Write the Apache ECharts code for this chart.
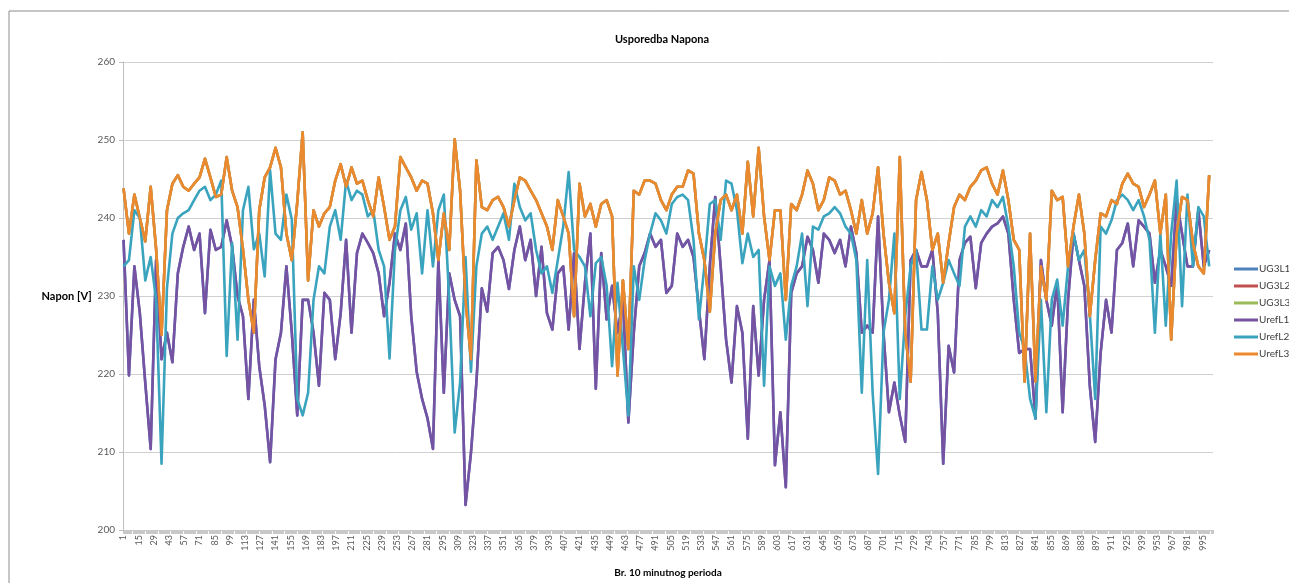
<!DOCTYPE html>
<html>
<head>
<meta charset="utf-8">
<script src="https://cdn.jsdelivr.net/npm/echarts@6/dist/echarts.min.js"></script>
<style>
  html, body { margin: 0; padding: 0; background: #fff; }
  #chart { width: 1289px; height: 583px; }
</style>
</head>
<body>
<div id="chart"></div>
<script>
// broj 10-minutnih perioda na osi x
var periodCount = 1004;
// vrijednosti su ocitane svakih 5 perioda (indeks 0, 5, 10, ... 1000)
var sampleStep = 5;

var yTicks = [200, 210, 220, 230, 240, 250, 260];

var legendNames = ['UG3L1', 'UG3L2', 'UG3L3', 'UrefL1', 'UrefL2', 'UrefL3'];
var lineColors = ['#4F81BD', '#C0504D', '#9BBB59', '#7652A2', '#3AA3BE', '#EC892E'];

// UrefL1 (ljubicasta)
var urefL1 = [
  237.2, 219.8, 233.8, 227.8, 218.9, 210.4, 234.6, 221.9, 225.3, 221.5, 232.9, 236.3, 238.9, 235.9, 238, 227.8, 238.5,
  235.9, 236.3, 239.7, 236.3, 230, 227.4, 216.8, 229.5, 221, 216, 208.7, 221.9, 225.3, 233.8, 225.3, 214.7, 229.5,
  229.5, 225.3, 218.5, 230.4, 229.5, 221.9, 227.8, 237.2, 225.3, 235.5, 238, 236.8, 235.5, 232.9, 227.4, 231.7, 238,
  235.9, 239.3, 227.4, 220.3, 216.8, 214.3, 210.4, 234.6, 217.6, 232.9, 229.5, 227.4, 203.2, 209.9, 218.9, 231, 228,
  235.5, 236.3, 234.6, 230.9, 235.9, 238.9, 234.6, 237.2, 230, 236.3, 227.8, 225.7, 232.9, 233.8, 225.7, 235.5, 223.2,
  231.7, 238, 218.1, 235.5, 227, 231.3, 225.3, 229.5, 213.8, 225.3, 233.8, 235.5, 238, 236.3, 237.2, 230.4,
  231.3, 238, 236.3, 237.2, 235, 228.3, 221.9, 233.8, 242.7, 233.8, 224.4, 218.9, 228.7, 225.3, 211.7, 228.7, 219.8,
  229.5, 234.6, 208.3, 215.1, 205.5, 230.4, 232.9, 233.8, 237.6, 235.9, 231.7, 238, 237.2, 235.5, 237.2, 233.8,
  238.9, 235.5, 225.3, 226.2, 225.3, 240.2, 225.3, 215.1, 218.9, 214.7, 211.3, 234.6, 235.9, 233.8, 233.8, 235.9, 227.8,
  208.5, 223.6, 220.2, 234.6, 236.8, 237.6, 231, 236.8, 238, 238.9, 239.3, 240.2, 238, 229.5, 222.7, 223.2,
  223.2, 214.3, 234.6, 229.5, 226.2, 231.7, 215.1, 229.5, 238, 234.6, 231.3, 218.5, 211.3, 222.7, 229.5, 225.3, 235.9,
  236.8, 239.3, 233.8, 239.7, 238.9, 238, 231.7, 235.9, 233.8, 231.3, 242.3, 238, 233.8, 233.8, 241, 233.8, 235.9
];

// UrefL2 (tirkizna)
var urefL2 = [
  233.8, 234.6, 241, 240, 232, 235, 229.5, 208.5, 231, 238, 240, 240.6, 241, 242.3, 243.5, 244, 242.3,
  243, 244.8, 222.3, 236.8, 224.4, 241, 244, 236, 238, 232.5, 246.1, 238, 237.2, 243, 239.8, 216.8, 214.7,
  217.6, 229.5, 233.8, 232.9, 238.9, 241, 237.2, 244.8, 242.3, 243.5, 243, 240.2, 241, 235.9, 233.8, 222, 235.9,
  241, 242.7, 238.5, 240.6, 232.9, 241, 233.8, 241, 243, 229.5, 212.5, 218.9, 235, 220.3, 233.8, 238, 238.9,
  237.2, 238.9, 240.6, 237.2, 244.4, 241.4, 239.7, 240.6, 235.9, 232.9, 233.8, 230.4, 234.6, 238.9, 245.9, 235.9, 235,
  233.8, 227.4, 234.2, 235, 231.3, 221, 231.7, 223.2, 214.7, 233.8, 229.5, 234.6, 238, 240.6, 239.7, 238,
  241.8, 242.7, 243, 242.3, 237.2, 227, 233.8, 241.8, 242.3, 237.2, 244.8, 244.4, 241, 234.2, 238, 235, 235.9,
  218.5, 233.8, 231.3, 232.9, 224.4, 231.3, 233.8, 238, 228.7, 238.9, 238.5, 240.2, 240.6, 241.4, 240.6, 238.9,
  238, 234.6, 217.6, 234.6, 217.6, 207.2, 225.3, 229.5, 238, 216.8, 227.4, 233.8, 235.9, 225.7, 225.7, 233.8, 229.5,
  231.7, 234.6, 232.9, 231.3, 238.9, 240.2, 238.9, 241, 240.2, 242.3, 241.4, 242.7, 238.9, 233.8, 225.3, 223.2,
  216.8, 214.3, 229.5, 215.1, 229.5, 232.1, 226.2, 233.8, 238, 234.6, 235.9, 227.8, 216.8, 238.9, 238, 239.7, 242.3,
  243, 242.3, 241, 242.3, 240.2, 237.2, 225.3, 238, 226.2, 238, 244.8, 228.7, 243, 233.8, 241.4, 240.2, 233.8
];

// UrefL3 (narancasta)
var urefL3 = [
  243.8, 238, 243, 240, 237, 244, 236, 225, 241, 244.4, 245.5, 244, 243.5, 244.4, 245.2, 247.6, 245.2,
  242.7, 243, 247.8, 243.5, 241.4, 236, 229.5, 225.3, 241, 245.2, 246.5, 249, 246.5, 238, 234.6, 242, 251,
  232, 241, 238.9, 240.6, 241.4, 244.8, 246.9, 244, 246.5, 244.4, 244.8, 242.3, 240.2, 245.2, 241.4, 237.2, 238.9,
  247.8, 246.5, 245.2, 243.5, 244.8, 244.4, 240.6, 234.6, 240.6, 235.9, 250.1, 243.5, 229.5, 221.9, 247.4, 241.4, 241,
  242.3, 242.7, 241.4, 238.9, 242.3, 245.2, 244.8, 243.5, 242.3, 240.6, 238.9, 235.9, 242.3, 240.2, 238, 227.4, 244.4,
  240.2, 241.8, 238.9, 241.8, 242.3, 240.2, 219.8, 232, 223.2, 243.5, 243, 244.8, 244.8, 244.4, 242.3, 241,
  243, 244, 244, 246.1, 245.7, 238, 234.6, 228, 238, 242.3, 243, 241, 243, 238, 247.2, 240.2, 249,
  240.2, 234.6, 241, 241, 229.5, 241.8, 241, 243, 246.1, 244.4, 241, 242.3, 245.2, 244.8, 243, 243.5,
  241, 238, 242.3, 238, 240.6, 246.5, 238, 231.7, 227.8, 247.8, 225.3, 219, 242.3, 245.9, 242.3, 235.9, 238,
  231.7, 236.8, 241.4, 243, 242.3, 244, 244.8, 246.1, 246.5, 244.4, 243, 246.1, 242.3, 237.2, 235.9, 219,
  238, 219, 233.8, 229.5, 243.5, 242.3, 242.7, 233.8, 238.9, 243, 238, 227.4, 234.6, 240.6, 240.2, 242.3, 241.8,
  244.4, 245.7, 244.4, 244, 241.4, 243, 244.8, 238, 243, 224.4, 238, 242.7, 242.3, 236.8, 233.8, 232.9, 245.5
];

// UG3 mjerenja se gotovo poklapaju s referentnima (vide se samo ispod njih)
var ug3L1 = urefL1;
var ug3L2 = urefL3;
var ug3L3 = urefL3;

var seriesValues = [ug3L1, ug3L2, ug3L3, urefL1, urefL2, urefL3];

function makeCategories(n) {
  var cats = [];
  for (var i = 1; i <= n; i++) cats.push(String(i));
  return cats;
}

function toPoints(values) {
  return values.map(function (v, i) { return [i * sampleStep, v]; });
}

function buildSeries() {
  return legendNames.map(function (name, k) {
    return {
      name: name,
      type: 'line',
      data: toPoints(seriesValues[k]),
      showSymbol: false,
      symbol: 'none',
      lineStyle: { width: 2.6, color: lineColors[k], join: 'round' },
      itemStyle: { color: lineColors[k] },
      z: k < 3 ? 2 : 3
    };
  });
}

var chart = echarts.init(document.getElementById('chart'));
chart.setOption({
  animation: false,
  textStyle: { fontFamily: 'Lato, "Liberation Sans", sans-serif' },
  title: {
    text: 'Usporedba Napona',
    left: 657,
    top: 29,
    textAlign: 'center',
    textStyle: { fontSize: 11, fontWeight: 'bold', color: '#000' }
  },
  legend: {
    orient: 'vertical',
    left: 1229,
    top: 259,
    itemWidth: 24,
    itemHeight: 3,
    itemGap: 7,
    icon: 'rect',
    data: legendNames,
    textStyle: { fontSize: 10, color: '#404040', padding: [0, 0, 0, -4] }
  },
  grid: { left: 123, right: 76, top: 62, bottom: 51, containLabel: false },
  xAxis: {
    type: 'category',
    data: makeCategories(periodCount),
    boundaryGap: true,
    name: 'Br. 10 minutnog perioda',
    nameLocation: 'middle',
    nameGap: 38,
    nameTextStyle: { fontSize: 10, fontWeight: 'bold', color: '#000' },
    axisLine: { lineStyle: { color: '#bfbfbf' } },
    axisTick: { show: true, interval: 0, length: 4, lineStyle: { color: '#c8c8c8' } },
    axisLabel: { interval: 13, rotate: 90, fontSize: 9, color: '#595959', margin: 5 },
    splitLine: { show: false }
  },
  yAxis: {
    type: 'value',
    min: yTicks[0],
    max: yTicks[yTicks.length - 1],
    interval: 10,
    name: 'Napon [V]',
    nameLocation: 'middle',
    nameRotate: 0,
    nameGap: 28,
    nameTextStyle: { fontSize: 11, fontWeight: 'bold', color: '#000', align: 'right' },
    axisLine: { show: true, lineStyle: { color: '#bfbfbf' } },
    axisTick: { show: true, length: 4, lineStyle: { color: '#bfbfbf' } },
    axisLabel: { fontSize: 10, color: '#595959', margin: 8 },
    splitLine: { lineStyle: { color: '#d0d0d0' } }
  },
  graphic: [{
    type: 'rect',
    shape: { x: 9, y: 11, width: 1300, height: 600 },
    style: { fill: 'none', stroke: '#8c8c8c', lineWidth: 1 },
    silent: true
  }],
  series: buildSeries()
});
</script>
</body>
</html>
